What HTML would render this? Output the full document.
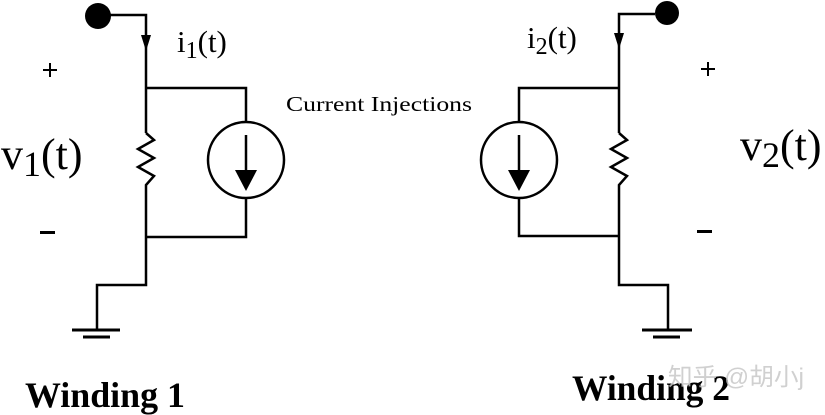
<!DOCTYPE html>
<html><head><meta charset="utf-8"><style>html,body{margin:0;padding:0;background:#fff}svg{display:block}text{font-family:"Liberation Serif",serif}.c{font-family:"Liberation Sans","Noto Sans CJK SC",sans-serif}</style></head>
<body>
<svg width="825" height="415" viewBox="0 0 825 415" xmlns="http://www.w3.org/2000/svg">
<g stroke="#000" stroke-width="2.5" fill="none">
<polyline points="110,15 146,15 146,133"/>
<polyline points="146,88 246,88 246,121"/>
<circle cx="246" cy="160" r="38"/>
<polyline points="246,199 246,237 146,237"/>
<polyline points="146,133 154,140 138,149 154,158 138,167 154,176 146,185 146,285 97,285 97,330"/>
<line x1="72" y1="330" x2="120" y2="330" stroke-width="3"/>
<line x1="83" y1="337" x2="110" y2="337" stroke-width="3"/>
<line x1="246" y1="135" x2="246" y2="172"/>
<polyline points="655,14 619,14 619,133"/>
<polyline points="619,88 519,88 519,121"/>
<circle cx="519" cy="160" r="38"/>
<polyline points="519,199 519,236 619,236"/>
<polyline points="619,133 627,140 611,149 627,158 611,167 627,176 619,185 619,285 668,285 668,330"/>
<line x1="642" y1="330" x2="692" y2="330" stroke-width="3"/>
<line x1="653" y1="337" x2="680" y2="337" stroke-width="3"/>
<line x1="519" y1="135" x2="519" y2="172"/>
</g>
<g fill="#000">
<circle cx="98" cy="16" r="13"/>
<circle cx="667" cy="13" r="12"/>
<polygon points="141,35 151,35 146,51"/>
<polygon points="614,33 624,33 619,49"/>
<polygon points="235,170 257,170 246,191"/>
<polygon points="508,170 530,170 519,191"/>
<rect x="40" y="231" width="15" height="3"/>
<rect x="697" y="230" width="15" height="3"/>
<rect x="43" y="69" width="14" height="2"/>
<rect x="49" y="63" width="2" height="14"/>
<rect x="701" y="68" width="14" height="2"/>
<rect x="707" y="62" width="2" height="14"/>
</g>
<text x="177" y="52" font-size="31">i<tspan font-size="24" dy="6">1</tspan><tspan dy="-6">(t)</tspan></text>
<text x="527" y="48" font-size="31">i<tspan font-size="24" dy="6">2</tspan><tspan dy="-6">(t)</tspan></text>
<text x="1" y="169" font-size="44">v<tspan font-size="36" dy="7">1</tspan><tspan dy="-7">(t)</tspan></text>
<text x="740" y="160" font-size="44">v<tspan font-size="36" dy="7">2</tspan><tspan dy="-7">(t)</tspan></text>
<text x="286" y="111" font-size="21" textLength="186" lengthAdjust="spacingAndGlyphs">Current Injections</text>
<text x="25" y="407" font-size="36" font-weight="bold" textLength="160" lengthAdjust="spacingAndGlyphs">Winding 1</text>
<text x="572" y="400" font-size="36" font-weight="bold" textLength="158" lengthAdjust="spacingAndGlyphs">Winding 2</text>
<text class="c" x="668" y="385" font-size="24" fill="#c8c8c8" fill-opacity="0.85" textLength="136" lengthAdjust="spacingAndGlyphs">知乎 @胡小j</text>
</svg>
</body></html>
